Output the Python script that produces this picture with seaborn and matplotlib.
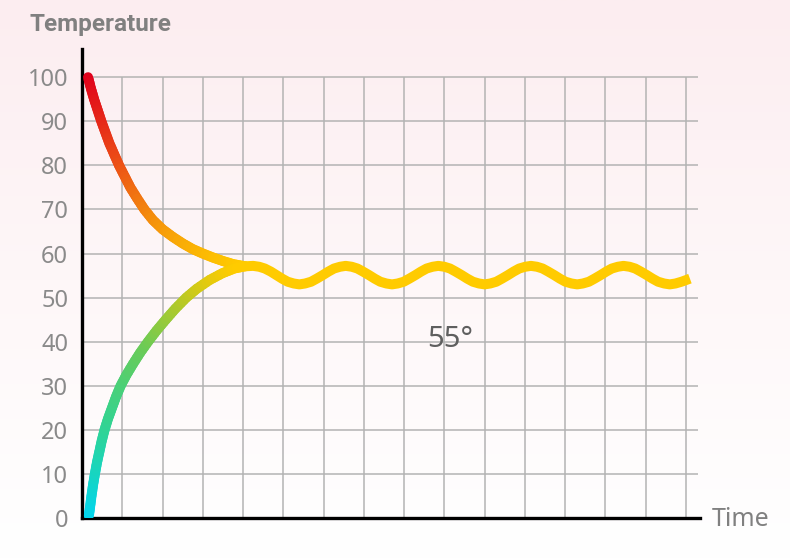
import numpy as np
import matplotlib
matplotlib.use("Agg")
import matplotlib.pyplot as plt
import seaborn as sns
import pandas as pd
from matplotlib.collections import LineCollection
from matplotlib.colors import LinearSegmentedColormap

# values (x = grid cells of time, y = temperature)
cool_x = [0.15, 0.22, 0.30, 0.39, 0.48, 0.58, 0.68, 0.80, 0.92, 1.06, 1.20, 1.37, 1.55,
          1.76, 2.00, 2.25, 2.50, 2.75, 3.00, 3.25, 3.50, 3.75, 4.05]
cool_y = [100.0, 97.5, 95.0, 92.5, 90.0, 87.5, 85.0, 82.5, 80.0, 77.5, 75.0, 72.5, 70.0,
          67.6, 65.5, 63.8, 62.3, 61.0, 60.0, 59.1, 58.3, 57.6, 57.1]

warm_x = [0.17, 0.20, 0.235, 0.275, 0.32, 0.37, 0.43, 0.49, 0.56, 0.645, 0.745, 0.845,
          0.96, 1.105, 1.27, 1.445, 1.64, 1.85, 2.08, 2.32, 2.59, 2.85, 3.17, 3.48, 3.78, 4.05]
warm_y = [0.5, 2.5, 5.0, 7.5, 10.0, 12.5, 15.0, 17.5, 20.0, 22.5, 25.0, 27.5,
          30.0, 32.5, 35.0, 37.5, 40.0, 42.5, 45.0, 47.5, 50.0, 52.0, 54.0, 55.5, 56.6, 57.1]

wave_x = [4.05, 4.25, 4.40, 4.54, 4.69, 4.83, 4.97, 5.11, 5.26, 5.40, 5.54, 5.69, 5.83,
          5.98, 6.12, 6.26, 6.41, 6.55, 6.70, 6.84, 6.98, 7.13, 7.27, 7.41, 7.56, 7.70,
          7.84, 7.99, 8.13, 8.28, 8.42, 8.56, 8.71, 8.85, 9.00, 9.14, 9.28, 9.43, 9.57,
          9.71, 9.86, 10.00, 10.14, 10.29, 10.43, 10.58, 10.72, 10.86, 11.01, 11.15, 11.30,
          11.44, 11.58, 11.73, 11.87, 12.01, 12.16, 12.30, 12.44, 12.59, 12.73, 12.88, 13.02,
          13.16, 13.31, 13.45, 13.60, 13.74, 13.88, 14.03, 14.17, 14.31, 14.46, 14.60, 14.74,
          14.89, 15.10]
wave_y = [57.1, 57.2, 57.0, 56.6, 55.9, 55.1, 54.3, 53.6, 53.2, 53.0, 53.2, 53.6, 54.3,
          55.1, 55.9, 56.6, 57.0, 57.2, 57.0, 56.6, 55.9, 55.1, 54.3, 53.6, 53.2, 53.0,
          53.2, 53.6, 54.3, 55.1, 55.9, 56.6, 57.0, 57.2, 57.0, 56.6, 55.9, 55.1, 54.3,
          53.6, 53.2, 53.0, 53.2, 53.6, 54.3, 55.1, 55.9, 56.6, 57.0, 57.2, 57.0,
          56.6, 55.9, 55.1, 54.3, 53.6, 53.2, 53.0, 53.2, 53.6, 54.3, 55.1, 55.9,
          56.6, 57.0, 57.2, 57.0, 56.6, 55.9, 55.1, 54.3, 53.6, 53.2, 53.0, 53.2,
          53.6, 54.3]

y_ticks = [0, 10, 20, 30, 40, 50, 60, 70, 80, 90, 100]
x_grid = list(range(1, 16))

sns.set_theme(style="white")
plt.rcParams["font.family"] = ["Noto Sans", "DejaVu Sans"]

fig = plt.figure(figsize=(7.9, 5.59), dpi=100)

# soft pink-to-white backdrop
bg = fig.add_axes([0, 0, 1, 1], zorder=-2)
bg_cmap = LinearSegmentedColormap.from_list("bg", ["#fcedf0", "#fef7f8", "#ffffff"])
bg.imshow(np.linspace(0, 1, 256).reshape(-1, 1), aspect="auto", cmap=bg_cmap,
          extent=[0, 1, 0, 1], origin="upper")
bg.axis("off")

ax = fig.add_axes([82 / 790, 41 / 559, 618 / 790, 469 / 559])
ax.patch.set_alpha(0)
ax.set_xlim(0, 15.35)
ax.set_ylim(0, 106.4)

# grid only inside the 0-100 box
ax.hlines(y_ticks[1:], 0, 15.3, color="#b3b3b3", lw=1.1, zorder=1)
ax.vlines(x_grid, 0, 100, color="#b3b3b3", lw=1.1, zorder=1)

LW = 7.2


def gradient_line(xs, ys, cmap, lo, hi):
    segs, vals = [], []
    for i in range(len(xs) - 1):
        t = np.linspace(0, 1, 5)
        px = xs[i] + (xs[i + 1] - xs[i]) * t
        py = ys[i] + (ys[i + 1] - ys[i]) * t
        for j in range(len(t) - 1):
            segs.append([(px[j], py[j]), (px[j + 1], py[j + 1])])
            vals.append((py[j] + py[j + 1]) / 2)
    lc = LineCollection(segs, cmap=cmap, norm=plt.Normalize(lo, hi),
                        linewidths=LW, capstyle="round", zorder=3)
    lc.set_array(np.array(vals))
    ax.add_collection(lc)


cool_cmap = LinearSegmentedColormap.from_list(
    "cool", [(0, "#ffca00"), (0.07, "#fbb604"), (0.30, "#f2800f"),
             (0.535, "#ec4e16"), (0.77, "#e52519"), (1, "#e0001c")])
warm_cmap = LinearSegmentedColormap.from_list(
    "warm", [(0, "#00d5f2"), (0.175, "#15d5c5"), (0.35, "#2ed499"), (0.526, "#48d07a"),
             (0.70, "#6dcb55"), (0.877, "#b9c925"), (1, "#ffcb00")])

gradient_line(cool_x, cool_y, cool_cmap, 57, 100)
gradient_line(warm_x, warm_y, warm_cmap, 0, 57)

wave = pd.DataFrame({"t": wave_x, "temp": wave_y})
sns.lineplot(data=wave, x="t", y="temp", ax=ax, color="#ffcb00", linewidth=LW,
             sort=False, zorder=4, solid_joinstyle="round", solid_capstyle="butt")

ax.text(9.14, 40.6, "55°", fontsize=21, fontweight="medium", color="#5f5f5f",
        ha="center", va="center")

for side in ["top", "right"]:
    ax.spines[side].set_visible(False)
for side in ["left", "bottom"]:
    ax.spines[side].set_color("black")
    ax.spines[side].set_linewidth(2.4)

ax.set_xticks([])
ax.set_yticks(y_ticks)
ax.tick_params(axis="y", length=0, pad=10, labelsize=17, labelcolor="#8a8a8a")
for lab in ax.get_yticklabels():
    lab.set_fontweight("light")
ax.set_xlabel("")
ax.set_ylabel("")

fig.text(29 / 790, 1 - 25 / 559, "Temperature", fontsize=17.5, fontweight="bold",
         color="#808080", va="center", family=["Roboto", "DejaVu Sans"])
fig.text(712 / 790, 1 - 520 / 559, "Time", fontsize=18, color="#808080", va="center")

fig.savefig("out.png", dpi=100)
